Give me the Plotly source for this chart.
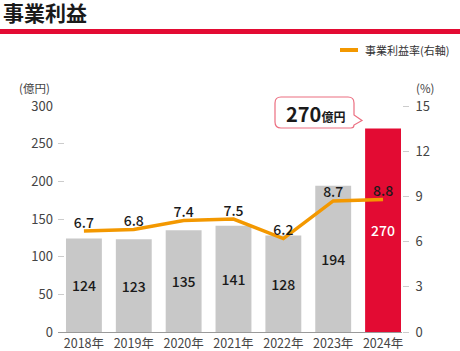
import plotly.graph_objects as go

years = ["2018年", "2019年", "2020年", "2021年", "2022年", "2023年", "2024年"]
profit = [124, 123, 135, 141, 128, 194, 270]
margin_pct = [6.7, 6.8, 7.4, 7.5, 6.2, 8.7, 8.8]
left_ticks = [0, 50, 100, 150, 200, 250, 300]
right_ticks = [0, 3, 6, 9, 12, 15]

FONT = "Noto Sans CJK JP"
GREY = "#C8C8C8"
RED = "#E30B33"
ORANGE = "#F39800"

W, H = 460, 351
L, R, T, B = 58, 58, 106, 19
PW, PH = W - L - R, H - T - B


def px(x):
    return (x - L) / PW


def py(y):
    return (H - B - y) / PH


bar_colors = [GREY] * (len(years) - 1) + [RED]
text_colors = ["#1a1a1a"] * (len(years) - 1) + ["#ffffff"]

fig = go.Figure()
fig.add_trace(go.Bar(
    x=years, y=profit, width=0.72,
    marker=dict(color=bar_colors, line=dict(width=0)),
    text=[str(v) for v in profit], textposition="inside",
    insidetextanchor="middle", constraintext="none",
    textfont=dict(family=FONT, size=14, color=text_colors, weight=500),
    textangle=0, hoverinfo="skip", showlegend=False,
))
fig.add_trace(go.Scatter(
    x=years, y=margin_pct, yaxis="y2", mode="lines+text",
    line=dict(color=ORANGE, width=3.5),
    text=[f"{v:.1f}" for v in margin_pct], textposition="top center",
    textfont=dict(family=FONT, size=14, color="#1a1a1a", weight=500),
    hoverinfo="skip", showlegend=False, cliponaxis=False,
))

shapes = []
# red rule under title
shapes.append(dict(type="rect", xref="paper", yref="paper",
                   x0=px(0), x1=px(460), y0=py(34), y1=py(29),
                   fillcolor=RED, line=dict(width=0), layer="above"))
# legend line
shapes.append(dict(type="line", xref="paper", yref="paper",
                   x0=px(340), x1=px(358), y0=py(50), y1=py(50),
                   line=dict(color=ORANGE, width=4)))
# callout box with tail
x0, x1, y0, y1, r = 275, 354, 97, 128, 6
pts = [
    f"M {px(x0 + r)},{py(y0)}",
    f"L {px(x1 - r)},{py(y0)}",
    f"Q {px(x1)},{py(y0)} {px(x1)},{py(y0 + r)}",
    f"L {px(x1)},{py(115)}",
    f"L {px(362)},{py(120.5)}",
    f"L {px(x1)},{py(125)}",
    f"Q {px(x1)},{py(y1)} {px(x1 - 3)},{py(y1)}",
    f"L {px(x0 + r)},{py(y1)}",
    f"Q {px(x0)},{py(y1)} {px(x0)},{py(y1 - r)}",
    f"L {px(x0)},{py(y0 + r)}",
    f"Q {px(x0)},{py(y0)} {px(x0 + r)},{py(y0)} Z",
]
shapes.append(dict(type="path", xref="paper", yref="paper", path=" ".join(pts),
                   fillcolor="white", line=dict(color="#EC6E80", width=1.2),
                   layer="above"))

annotations = [
    dict(text="<b>事業利益</b>", x=px(1), y=py(12), xref="paper", yref="paper",
         xanchor="left", yanchor="middle", showarrow=False,
         font=dict(family=FONT, size=21, color="#1a1a1a")),
    dict(text="事業利益率(右軸)", x=px(363), y=py(50), xref="paper", yref="paper",
         xanchor="left", yanchor="middle", showarrow=False,
         font=dict(family=FONT, size=11, color="#333333")),
    dict(text="(億円)", x=px(17), y=py(87.5), xref="paper", yref="paper",
         xanchor="left", yanchor="middle", showarrow=False,
         font=dict(family=FONT, size=11.5, color="#444444")),
    dict(text="(%)", x=px(414), y=py(87.5), xref="paper", yref="paper",
         xanchor="left", yanchor="middle", showarrow=False,
         font=dict(family=FONT, size=11.5, color="#444444")),
    dict(text="<b>270</b><b><span style='font-size:12px'>億円</span></b>",
         x=px(315), y=py(113), xref="paper", yref="paper",
         xanchor="center", yanchor="middle", showarrow=False,
         font=dict(family=FONT, size=20, color="#1a1a1a")),
]

fig.update_layout(
    width=W, height=H, margin=dict(l=L, r=R, t=T, b=B, pad=0, autoexpand=False),
    paper_bgcolor="white", plot_bgcolor="white",
    font=dict(family=FONT, color="#444444"),
    bargap=0.28,
    xaxis=dict(range=[-0.52, 6.38], showgrid=False, zeroline=False,
               showline=True, linecolor="#9a9a9a", linewidth=1,
               ticks="", tickfont=dict(family=FONT, size=12.5, color="#444444"),
               ticklabelstandoff=0, fixedrange=True, automargin=False),
    yaxis=dict(range=[0, 300], tickvals=left_ticks, showgrid=False,
               zeroline=False, showline=False, ticks="inside", ticklen=6,
               tickcolor="#cccccc", tickwidth=1, automargin=False,
               tickfont=dict(family=FONT, size=13, color="#444444"),
               ticklabelstandoff=4),
    yaxis2=dict(range=[0, 15], tickvals=right_ticks, overlaying="y",
                side="right", showgrid=False, zeroline=False, showline=False,
                ticks="outside", ticklen=6, tickcolor="#cccccc", tickwidth=1,
                automargin=False,
                tickfont=dict(family=FONT, size=13, color="#444444"),
                ticklabelstandoff=4),
    shapes=shapes, annotations=annotations,
)

fig.write_html("out.html")
